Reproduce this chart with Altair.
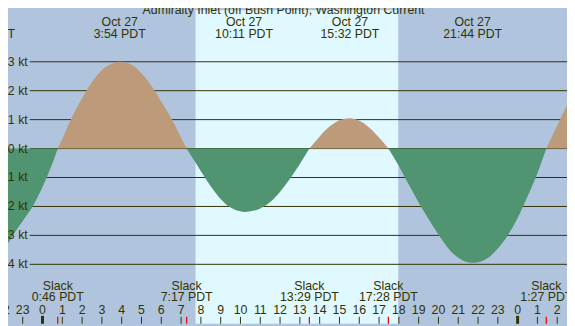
import altair as alt
import pandas as pd

TITLE = "Admiralty Inlet (off Bush Point), Washington Current"

# hours since Oct 27 00:00 PDT, current speed in knots
hours = [-2.0, -1.5, -1.0, -0.5, 0.0, 0.5, 0.77, 1.0, 1.5, 2.0, 2.5, 3.0, 3.5, 3.9,
         4.5, 5.0, 5.5, 6.0, 6.5, 7.0, 7.28, 7.5, 8.0, 8.5, 9.0, 9.5, 10.0, 10.18,
         10.5, 11.0, 11.5, 12.0, 12.5, 13.0, 13.48, 14.0, 14.5, 15.0, 15.53, 16.0,
         16.5, 17.0, 17.47, 18.0, 18.5, 19.0, 19.5, 20.0, 20.5, 21.0, 21.5, 21.73,
         22.0, 22.5, 23.0, 23.5, 24.0, 24.5, 25.0, 25.45, 26.0, 26.6]
knots = [-3.58, -3.0, -2.5, -2.0, -1.33, -0.52, 0.0, 0.33, 1.1, 1.75, 2.3, 2.71, 2.93, 3.0,
         2.9, 2.6, 2.17, 1.62, 1.05, 0.38, 0.0, -0.24, -0.78, -1.3, -1.74, -2.04, -2.17, -2.19,
         -2.17, -2.07, -1.85, -1.49, -1.04, -0.53, 0.0, 0.42, 0.76, 0.98, 1.05, 0.96,
         0.73, 0.38, 0.0, -0.6, -1.24, -1.86, -2.43, -2.97, -3.45, -3.77, -3.93, -3.95,
         -3.93, -3.78, -3.45, -3.0, -2.4, -1.66, -0.85, 0.0, 0.8, 1.65]

extreme_hours = [-2.88, 3.9, 10.18, 15.53, 21.73]
extreme_dates = ["Oct 26", "Oct 27", "Oct 27", "Oct 27", "Oct 27"]
extreme_times = ["21:07 PDT", "3:54 PDT", "10:11 PDT", "15:32 PDT", "21:44 PDT"]

slack_hours = [0.77, 7.28, 13.48, 17.47, 25.45]
slack_times = ["0:46 PDT", "7:17 PDT", "13:29 PDT", "17:28 PDT", "1:27 PDT"]

sunrise, sunset = 7.73, 17.97

kt_levels = [-4, -3, -2, -1, 0, 1, 2, 3]
kt_labels = ["-4 kt", "-3 kt", "-2 kt", "-1 kt", "0 kt", "1 kt", "2 kt", "3 kt"]

hour_ticks = list(range(-2, 27))
hour_labels = [str(h % 24) for h in hour_ticks]
midnights = [0, 24]

NIGHT = "#b0c4de"
DAY = "#e0f8ff"
FLOOD = "#bc9a7a"
EBB = "#509472"
FG = "#333300"
FONT = "Liberation Sans"
FS = 12.5

W, H = 567, 318
xs = alt.Scale(domain=[-1.743, 26.494], nice=False, zero=False)
ys = alt.Scale(domain=[-6.054, 4.780], nice=False, zero=False)

# split the curve into lobes between slack points
rows = []
lobe = 0
for i, (h, v) in enumerate(zip(hours, knots)):
    if v == 0 and i > 0:
        rows.append({"h": h, "v": v, "lobe": lobe})
        lobe += 1
        rows.append({"h": h, "v": v, "lobe": lobe})
    else:
        rows.append({"h": h, "v": v, "lobe": lobe})
curve = pd.DataFrame(rows)
sign = curve.groupby("lobe")["v"].sum()
curve["dir"] = curve["lobe"].map(lambda L: "flood" if sign[L] > 0 else "ebb")

day = alt.Chart(pd.DataFrame({"a": [sunrise], "b": [sunset]})).mark_rect(color=DAY).encode(
    x=alt.X("a:Q", scale=xs, axis=None), x2="b:Q", y=alt.value(0), y2=alt.value(H))

kt_df = pd.DataFrame({"kt": kt_levels, "lab": kt_labels})
grid = alt.Chart(kt_df).mark_rule(color=FG, strokeWidth=1).encode(
    x=alt.value(22), x2=alt.value(W), y=alt.Y("kt:Q", scale=ys, axis=None))
ktText = alt.Chart(kt_df).mark_text(font=FONT, fontSize=FS, color=FG, align="right",
                                    baseline="middle").encode(
    x=alt.value(20), y=alt.Y("kt:Q", scale=ys, axis=None), text="lab:N")

area = alt.Chart(curve).mark_area(interpolate="monotone", clip=True).encode(
    x=alt.X("h:Q", scale=xs, axis=None),
    y=alt.Y("v:Q", scale=ys, axis=None, stack=None),
    y2=alt.datum(0),
    color=alt.Color("dir:N", scale=alt.Scale(domain=["flood", "ebb"], range=[FLOOD, EBB]),
                    legend=None),
    detail="lobe:N")

ext_df = pd.DataFrame({"h": extreme_hours, "d": extreme_dates, "t": extreme_times})
ext1 = alt.Chart(ext_df).mark_text(font=FONT, fontSize=FS, color=FG, align="center",
                                   baseline="alphabetic").encode(
    x=alt.X("h:Q", scale=xs, axis=None), y=alt.value(16), text="d:N")
ext2 = alt.Chart(ext_df).mark_text(font=FONT, fontSize=FS, color=FG, align="center",
                                   baseline="alphabetic").encode(
    x=alt.X("h:Q", scale=xs, axis=None), y=alt.value(28), text="t:N")

title = alt.Chart(pd.DataFrame({"t": [TITLE]})).mark_text(
    font=FONT, fontSize=FS, color=FG, align="center", baseline="alphabetic").encode(
    x=alt.value(279.5), y=alt.value(3.7), text="t:N")

sl_df = pd.DataFrame({"h": slack_hours, "t": slack_times, "s": ["Slack"] * len(slack_hours)})
sl1 = alt.Chart(sl_df).mark_text(font=FONT, fontSize=FS, color=FG, align="center",
                                 baseline="alphabetic").encode(
    x=alt.X("h:Q", scale=xs, axis=None), y=alt.value(283.7), text="s:N")
sl2 = alt.Chart(sl_df).mark_text(font=FONT, fontSize=FS, color=FG, align="center",
                                 baseline="alphabetic").encode(
    x=alt.X("h:Q", scale=xs, axis=None), y=alt.value(295.3), text="t:N")

hr_df = pd.DataFrame({"h": hour_ticks, "lab": hour_labels})
hrText = alt.Chart(hr_df).mark_text(font=FONT, fontSize=FS, color=FG, align="center",
                                    baseline="alphabetic").encode(
    x=alt.X("h:Q", scale=xs, axis=None), y=alt.value(308), text="lab:N")
hrTick = alt.Chart(hr_df).mark_rule(color=FG, strokeWidth=1).encode(
    x=alt.X("h:Q", scale=xs, axis=None), y=alt.value(311), y2=alt.value(H))
midTick = alt.Chart(pd.DataFrame({"h": midnights})).mark_rule(color=FG, strokeWidth=3).encode(
    x=alt.X("h:Q", scale=xs, axis=None), y=alt.value(310), y2=alt.value(H))
redTick = alt.Chart(sl_df).mark_rule(color="#ff0000", strokeWidth=1.3).encode(
    x=alt.X("h:Q", scale=xs, axis=None), y=alt.value(311), y2=alt.value(H))

chart = alt.layer(day, grid, area, ktText, title, ext1, ext2, sl1, sl2, hrText, hrTick,
                  midTick, redTick).properties(
    width=W, height=H, padding=0, autosize=alt.AutoSizeParams(type="none"),
    background=NIGHT).configure_view(strokeWidth=0, fill=NIGHT)

chart.save("out.html", embed_options={"renderer": "svg", "actions": False})
